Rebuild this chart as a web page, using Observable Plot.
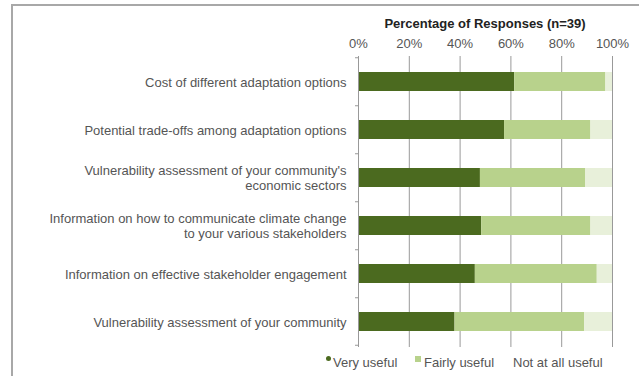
<!DOCTYPE html>
<html>
<head>
<meta charset="utf-8">
<script src="https://cdn.jsdelivr.net/npm/d3@7"></script>
<script src="https://cdn.jsdelivr.net/npm/@observablehq/plot@0.6"></script>
<style>
  html, body { margin: 0; padding: 0; background: #fff; overflow: hidden; }
  #wrap { position: relative; width: 639px; height: 376px; overflow: hidden; font-family: "Liberation Sans", Arial, sans-serif; }
  #lineTop { position: absolute; left: 11px; top: 4px; width: 628px; height: 2px; background: #a8a8a8; }
  #lineLeft { position: absolute; left: 11px; top: 4px; width: 2px; height: 372px; background: #a8a8a8; }
  #title { position: absolute; top: 16px; left: 335px; width: 300px; text-align: center; font-size: 13px; font-weight: bold; color: #222; }
  #chart { position: absolute; left: 0; top: 0; width: 639px; height: 350px; overflow: hidden; }
  #legend { position: absolute; top: 355px; left: 326px; font-size: 13px; color: #555; white-space: nowrap; }
  #legend span.item { position: absolute; top: 0; }
  #legend i { display: inline-block; margin-right: 2px; }
</style>
</head>
<body>
<div id="wrap">
  <div id="lineTop"></div>
  <div id="lineLeft"></div>
  <div id="chart"></div>
  <div id="title"></div>
  <div id="legend"></div>
</div>
<script>
const categories = [
  "Cost of different adaptation options",
  "Potential trade-offs among adaptation options",
  "Vulnerability assessment of your community's\neconomic sectors",
  "Information on how to communicate climate change\nto your various stakeholders",
  "Information on effective stakeholder engagement",
  "Vulnerability assessment of your community"
];
const responses = ["Very useful", "Fairly useful", "Not at all useful"];
const veryUseful   = [61.5, 57.5, 48.0, 48.5, 46.0, 38.0];
const fairlyUseful = [35.9, 34.0, 41.5, 43.0, 48.0, 51.0];
const notAtAll     = [2.6, 8.5, 10.5, 8.5, 6.0, 11.0];
const colors = ["#4b6a1f", "#b8d28c", "#e8f0da"];
const xTicks = [0, 20, 40, 60, 80, 100];
const title = "Percentage of Responses (n=39)";
const bandPaddingInner = 0.6;

const series = [veryUseful, fairlyUseful, notAtAll];
const data = [];
categories.forEach((c, i) => {
  responses.forEach((r, j) => data.push({category: c, response: r, value: series[j][i]}));
});

// small tick marks at category boundaries on the left axis, positioned from the scales
function boundaryTicks(index, scales) {
  const g = d3.create("svg:g").attr("stroke", "#999");
  const sy = scales.y;
  let bw = sy.bandwidth;
  if (typeof bw === "function") bw = bw.call(sy);
  if (!(bw > 0) && scales.scales && scales.scales.y) bw = scales.scales.y.bandwidth;
  if (!(bw > 0)) return g.node();
  const step = bw / (1 - bandPaddingInner);
  const x0 = scales.x(0);
  const ys = categories.map(c => sy(c) - (step - bw) / 2);
  ys.push(sy(categories[categories.length - 1]) + bw + (step - bw) / 2);
  ys.forEach(y => { if (isFinite(y)) g.append("line").attr("x1", x0 - 3).attr("x2", x0).attr("y1", y).attr("y2", y); });
  return g.node();
}

const chart = Plot.plot({
  width: 639,
  height: 350,
  marginLeft: 358,
  marginRight: 27,
  marginTop: 56,
  marginBottom: 3,
  style: {fontFamily: "'Liberation Sans', Arial, sans-serif", fontSize: "13px", color: "#333", background: "transparent"},
  x: {domain: [0, 100], axis: null},
  y: {domain: categories, paddingInner: bandPaddingInner, paddingOuter: 0.3, axis: null},
  color: {domain: responses, range: colors},
  marks: [
    Plot.gridX(xTicks, {stroke: "#999", strokeOpacity: 1, strokeWidth: 1}),
    Plot.barX(data, Plot.stackX({y: "category", x: "value", fill: "response", order: null})),
    Plot.ruleX([0], {stroke: "#999"}),
    boundaryTicks,
    Plot.axisX(xTicks, {anchor: "top", tickSize: 0, tickPadding: 9, tickFormat: d => d + "%", fontSize: 13, fill: "#555", label: null}),
    Plot.axisY({tickSize: 0, tickPadding: 12, fontSize: 13, fill: "#555", label: null, lineHeight: 1.1})
  ]
});
document.getElementById("chart").appendChild(chart);
document.getElementById("title").textContent = title;

const legend = document.getElementById("legend");
const legendX = [0, 89, 187];
const markers = [
  '<i style="width:5px;height:5px;border-radius:50%;background:' + colors[0] + ';vertical-align:6px"></i>',
  '<i style="width:6px;height:6px;background:' + colors[1] + ';vertical-align:5px;margin-right:3px"></i>',
  ''
];
responses.forEach((r, j) => {
  const s = document.createElement("span");
  s.className = "item";
  s.style.left = legendX[j] + "px";
  s.innerHTML = markers[j] + r;
  legend.appendChild(s);
});
</script>
</body>
</html>
